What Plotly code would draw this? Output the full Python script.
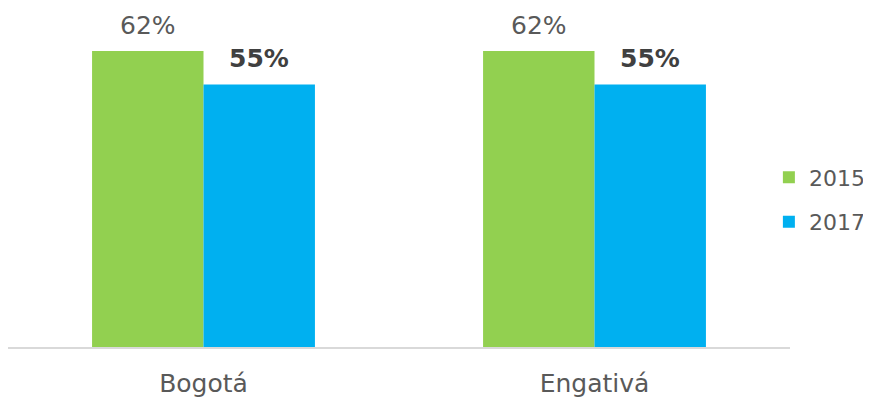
import plotly.graph_objects as go

categories = ["Bogotá", "Engativá"]
series_names = ["2015", "2017"]
values_2015 = [62, 62]
values_2017 = [55, 55]
labels_2015 = ["62%", "62%"]
labels_2017 = ["<b>55%</b>", "<b>55%</b>"]

FONT = "DejaVu Sans"
BARGAP = 0.43
W, H = 863, 389          # page body adds an 8px margin
ML, MR, MT, MB = 0, 81, 0, 50

fig = go.Figure()
fig.add_trace(go.Bar(
    x=categories, y=values_2015, name=series_names[0], legendgroup="a",
    marker=dict(color="#92D050", line=dict(width=0)),
))
fig.add_trace(go.Bar(
    x=categories, y=values_2017, name=series_names[1], legendgroup="b",
    marker=dict(color="#00B0F0", line=dict(width=0)),
))

# value labels above bars, anchored to the data values
plot_w = W - ML - MR
cat_w = plot_w / len(categories)
bar_w = cat_w * (1 - BARGAP) / 2
for i, c in enumerate(categories):
    fig.add_annotation(x=c, y=values_2015[i], text=labels_2015[i], showarrow=False,
                       xshift=-bar_w / 2, yshift=9, yanchor="bottom",
                       font=dict(family=FONT, size=25, color="#595959"))
    fig.add_annotation(x=c, y=values_2017[i], text=labels_2017[i], showarrow=False,
                       xshift=bar_w / 2, yshift=9, yanchor="bottom",
                       font=dict(family=FONT, size=25, color="#404040"))

fig.update_layout(
    width=W, height=H,
    margin=dict(l=ML, r=MR, t=MT, b=MB, autoexpand=False),
    paper_bgcolor="white", plot_bgcolor="white",
    barmode="group", bargap=BARGAP, bargroupgap=0,
    font=dict(family=FONT, color="#595959"),
    legend=dict(x=0.973, xanchor="left", y=0.434, yanchor="middle",
                font=dict(family=FONT, size=22, color="#595959"),
                itemwidth=30, tracegroupgap=13, bgcolor="rgba(0,0,0,0)"),
    xaxis=dict(showline=True, linecolor="#D9D9D9", linewidth=1.5,
               ticks="outside", ticklen=13, tickcolor="rgba(0,0,0,0)",
               tickfont=dict(family=FONT, size=25, color="#595959"),
               showgrid=False, zeroline=False, automargin=False),
    yaxis=dict(range=[0, 71.0], visible=False, showgrid=False, zeroline=False),
)

fig.write_html("out.html")
